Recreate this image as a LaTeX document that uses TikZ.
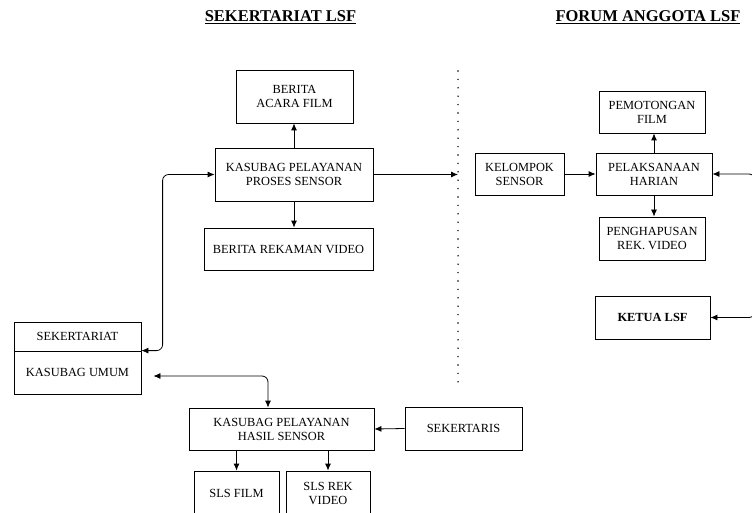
\documentclass[tikz,border=0pt]{standalone}
\usepackage{fontspec}
\setmainfont{Liberation Serif}
\usetikzlibrary{positioning,arrows.meta}
\begin{document}
\begin{tikzpicture}[x=1pt,y=-1pt,
    box/.style={draw,thick,rectangle,align=center,inner sep=0pt,
        font=\fontsize{12.4}{14}\selectfont},
    judul/.style={font=\fontsize{16.5}{18}\selectfont\bfseries},
    panah/.style={thick,-{Latex[length=7pt,width=6pt]}},
    duapanah/.style={thick,{Latex[length=7pt,width=6pt]}-{Latex[length=7pt,width=6pt]},rounded corners=6pt}]
    \useasboundingbox (0,0) rectangle (752,513);
    \clip (0,0) rectangle (752,513);
    %% titles
    \node[judul] (sekretariatlsf) at (280.5,17) {\underline{SEKERTARIAT LSF}};
    \node[judul] (forumlsf) at (648,17) {\underline{FORUM ANGGOTA LSF}};
    %% divider
    \coordinate (batasatas) at (458,71);
    \coordinate (batasbawah) at (458,386);
    \draw[line width=1.6pt,line cap=round,dash pattern=on 0pt off 8.4pt] (batasatas) -- (batasbawah);
    %% sekertariat side
    \node[box,minimum width=117pt,minimum height=53pt] (acara) at (294.5,96.5) {BERITA\\ACARA FILM};
    \node[box,minimum width=158pt,minimum height=53pt] (proses) at (294,174.5) {KASUBAG PELAYANAN\\PROSES SENSOR};
    \node[box,minimum width=169pt,minimum height=42pt] (rekaman) at (288.5,249) {BERITA REKAMAN VIDEO};
    \node[box,minimum width=127pt,minimum height=29pt] (sekr) at (77.5,336.5) {SEKERTARIAT};
    \node[box,minimum width=127pt,minimum height=43pt] (umum) at (77.5,372.5) {KASUBAG UMUM};
    \node[box,minimum width=185pt,minimum height=42pt] (hasil) at (281.5,429) {KASUBAG PELAYANAN\\HASIL SENSOR};
    \node[box,minimum width=85pt,minimum height=44pt] (slsfilm) at (236.5,493) {SLS FILM};
    \node[box,minimum width=84pt,minimum height=44pt] (slsrek) at (328,493) {SLS REK\\VIDEO};
    \node[box,minimum width=117pt,minimum height=43pt] (sekertaris) at (463.5,428.5) {SEKERTARIS};
    \draw[panah] (proses.north) -- (proses.north |- acara.south);
    \draw[panah] (proses.south) -- (proses.south |- rekaman.north);
    \draw[duapanah] (proses.west) -- ++(-52,0) |- (umum.north east);
    \draw[duapanah] ([xshift=12pt,yshift=-3.5pt]umum.east) -| ([xshift=-13.5pt]hasil.north);
    \draw[panah] (sekertaris.west) -- (hasil.east);
    \draw[panah] (slsfilm.north |- hasil.south) -- (slsfilm.north);
    \draw[panah] (slsrek.north |- hasil.south) -- (slsrek.north);
    \draw[panah] (proses.east) -- (proses.east -| batasatas);
    %% forum side
    \node[box,minimum width=89pt,minimum height=42pt] (kelompok) at (519.5,174) {KELOMPOK\\SENSOR};
    \node[box,minimum width=116pt,minimum height=42pt] (harian) at (654,174) {PELAKSANAAN\\HARIAN};
    \node[box,minimum width=106pt,minimum height=42pt] (potong) at (652,112) {PEMOTONGAN\\FILM};
    \node[box,minimum width=106pt,minimum height=43pt] (hapus) at (652,238.5) {PENGHAPUSAN\\REK. VIDEO};
    \node[box,minimum width=115pt,minimum height=43pt,font=\fontsize{12.4}{14}\selectfont\bfseries] (ketua) at (652.5,317.5) {KETUA LSF};
    \draw[panah] (kelompok.east) -- (harian.west);
    \draw[panah] (harian.north) -- (harian.north |- potong.south);
    \draw[panah] (harian.south) -- (harian.south |- hapus.north);
    \draw[duapanah] (harian.east) -- (755,174) -- (755,317.5) -- (ketua.east);
\end{tikzpicture}
\end{document}
